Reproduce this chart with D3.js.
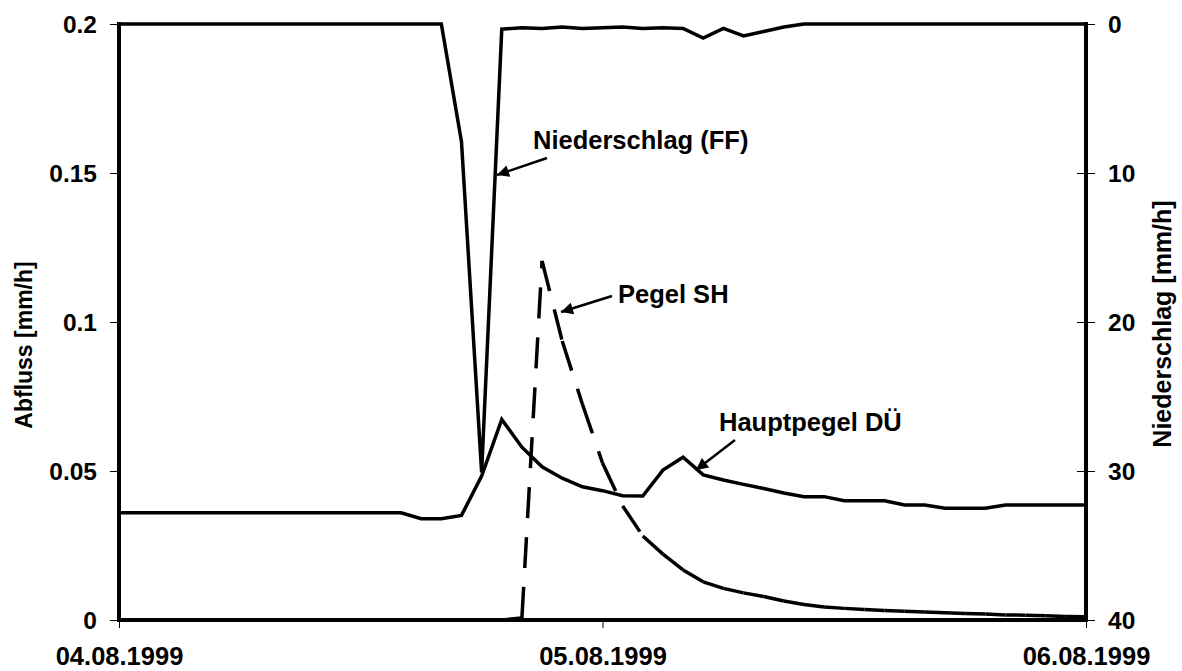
<!DOCTYPE html>
<html>
<head>
<meta charset="utf-8">
<script src="https://cdn.jsdelivr.net/npm/d3@7"></script>
<style>
  html, body { margin: 0; padding: 0; background: #fff; }
  svg { display: block; }
  text { font-family: "Liberation Sans", Arial, sans-serif; font-weight: bold; fill: #000; }
</style>
</head>
<body>
<svg id="chart" width="1182" height="671"></svg>
<script>
// ---------- data (hourly values, 04.08.1999 00:00 .. 06.08.1999 00:00) ----------
const xTickLabels = ["04.08.1999", "05.08.1999", "06.08.1999"];
const leftTickValues = [0, 0.05, 0.1, 0.15, 0.2];
const leftTickLabels = ["0", "0.05", "0.1", "0.15", "0.2"];
const rightTickValues = [0, 10, 20, 30, 40];

// Hauptpegel DÜ  [mm/h]
const abflussDU = [
  0.036, 0.036, 0.036, 0.036, 0.036, 0.036, 0.036, 0.036, 0.036, 0.036,
  0.036, 0.036, 0.036, 0.036, 0.036, 0.034, 0.034, 0.0351, 0.0483, 0.0673,
  0.058, 0.0514, 0.0476, 0.0447, 0.0434, 0.0417, 0.0416, 0.0503, 0.0546, 0.0487,
  0.047, 0.0455, 0.0441, 0.0426, 0.0414, 0.0414, 0.040, 0.040, 0.040, 0.0386,
  0.0386, 0.0375, 0.0375, 0.0375, 0.0386, 0.0386, 0.0386, 0.0386, 0.0386
];
// Pegel SH  [mm/h]
const abflussSH = [
  0, 0, 0, 0, 0, 0, 0, 0, 0, 0,
  0, 0, 0, 0, 0, 0, 0, 0, 0, 0,
  0.0007, 0.1205, 0.0936, 0.0725, 0.0527, 0.0383, 0.0282, 0.0221, 0.0168, 0.0128,
  0.0106, 0.0091, 0.0079, 0.0064, 0.0052, 0.0044, 0.0039, 0.0035, 0.0032, 0.0029,
  0.0027, 0.0024, 0.0022, 0.002, 0.0017, 0.0016, 0.0014, 0.0012, 0.0011
];
// Niederschlag (FF)  [mm/h]
const niederschlag = [
  0, 0, 0, 0, 0, 0, 0, 0, 0, 0,
  0, 0, 0, 0, 0, 0, 0, 7.9, 30.1, 0.35,
  0.25, 0.3, 0.2, 0.3, 0.25, 0.2, 0.3, 0.25, 0.3, 0.95,
  0.3, 0.8, 0.5, 0.2, 0, 0, 0, 0, 0, 0,
  0, 0, 0, 0, 0, 0, 0, 0, 0
];

// ---------- layout ----------
const svg = d3.select("#chart");
const pLeft = 119, pRight = 1086, pTop = 24, pBottom = 620;

const start = new Date(1999, 7, 4, 0, 0);
const end = new Date(1999, 7, 6, 0, 0);
const times = abflussDU.map((_, i) => d3.timeHour.offset(start, i));
const xTickDates = xTickLabels.map((_, i) => d3.timeDay.offset(start, i));

const x = d3.scaleTime().domain([start, end]).range([pLeft, pRight]);
const yL = d3.scaleLinear().domain([0, 0.2]).range([pBottom, pTop]);
const yR = d3.scaleLinear().domain([0, 40]).range([pTop, pBottom]);

// ---------- series ----------
const lineL = d3.line().x((d, i) => x(times[i])).y(d => yL(d));
const lineR = d3.line().x((d, i) => x(times[i])).y(d => yR(d));

// Niederschlag (solid)
svg.append("path").datum(niederschlag)
  .attr("d", lineR)
  .attr("fill", "none").attr("stroke", "#000")
  .attr("stroke-width", 3.5).attr("stroke-linejoin", "miter").attr("stroke-miterlimit", 10);

// Hauptpegel DÜ (solid)
svg.append("path").datum(abflussDU)
  .attr("d", lineL)
  .attr("fill", "none").attr("stroke", "#000")
  .attr("stroke-width", 3.5).attr("stroke-linejoin", "miter");

// Pegel SH (dashed, dash pattern restarts on every segment)
const segs = d3.pairs(abflussSH.map((v, i) => [times[i], v]));
svg.append("g").selectAll("line").data(segs).join("line")
  .attr("x1", d => x(d[0][0])).attr("y1", d => yL(d[0][1]))
  .attr("x2", d => x(d[1][0])).attr("y2", d => yL(d[1][1]))
  .attr("stroke", "#000").attr("stroke-width", 3.5)
  .attr("stroke-dasharray", "31,19");

// ---------- axes ----------
const gL = svg.append("g").attr("transform", `translate(${pLeft},0)`)
  .call(d3.axisLeft(yL).tickValues(leftTickValues)
    .tickFormat((d, i) => leftTickLabels[i]).tickSize(9).tickPadding(13).tickSizeOuter(0));
const gR = svg.append("g").attr("transform", `translate(${pRight},0)`)
  .call(d3.axisRight(yR).tickValues(rightTickValues).tickSize(9).tickPadding(13).tickSizeOuter(0));
gR.selectAll(".tick line").attr("x1", -9);
const gB = svg.append("g").attr("transform", `translate(0,${pBottom})`)
  .call(d3.axisBottom(x).tickValues(xTickDates)
    .tickFormat((d, i) => xTickLabels[i]).tickSize(8).tickSizeOuter(0));

[gL, gR, gB].forEach(g => {
  g.select(".domain").remove();
  g.selectAll(".tick line").attr("stroke", "#000").attr("stroke-width", 1);
  g.selectAll("text").style("font-size", "24.5px").style("font-weight", "bold")
    .style("font-family", "'Liberation Sans', Arial, sans-serif").attr("fill", "#000");
});
gL.selectAll("text").attr("dy", "0.36em");
gR.selectAll("text").attr("dy", "0.36em");
gB.selectAll("text").attr("y", 45).attr("dy", 0).style("font-size", "25.5px");

// thick axis lines
const axisLines = [
  [pLeft, pTop, pLeft, pBottom],
  [pRight, pTop, pRight, pBottom],
  [pLeft, pBottom, pRight, pBottom]
];
svg.append("g").selectAll("line").data(axisLines).join("line")
  .attr("x1", d => d[0]).attr("y1", d => d[1]).attr("x2", d => d[2]).attr("y2", d => d[3])
  .attr("stroke", "#000").attr("stroke-width", 4).attr("stroke-linecap", "square");

// axis titles
svg.append("text")
  .attr("transform", "translate(32,345) rotate(-90)")
  .attr("text-anchor", "middle").style("font-size", "23px")
  .text("Abfluss [mm/h]");
svg.append("text")
  .attr("transform", "translate(1171,324) rotate(-90)")
  .attr("text-anchor", "middle").style("font-size", "25px")
  .text("Niederschlag [mm/h]");

// ---------- annotations ----------
const defs = svg.append("defs");
defs.append("marker").attr("id", "arrow")
  .attr("viewBox", "0 0 10 10").attr("refX", 10).attr("refY", 5)
  .attr("markerUnits", "userSpaceOnUse")
  .attr("markerWidth", 15).attr("markerHeight", 12).attr("orient", "auto")
  .append("path").attr("d", "M0,0 L10,5 L0,10 z").attr("fill", "#000");

const annotations = [
  { text: "Niederschlag (FF)", tx: 533, ty: 149, from: [547, 158], to: [497, 175] },
  { text: "Pegel SH", tx: 618, ty: 303, from: [612, 296], to: [561, 312] },
  { text: "Hauptpegel DÜ", tx: 719, ty: 431, from: [735, 440], to: [696, 470] }
];
const ga = svg.append("g");
ga.selectAll("line").data(annotations).join("line")
  .attr("x1", d => d.from[0]).attr("y1", d => d.from[1])
  .attr("x2", d => d.to[0]).attr("y2", d => d.to[1])
  .attr("stroke", "#000").attr("stroke-width", 2.5)
  .attr("marker-end", "url(#arrow)");
ga.selectAll("text").data(annotations).join("text")
  .attr("x", d => d.tx).attr("y", d => d.ty)
  .style("font-size", "25.5px")
  .text(d => d.text);
</script>
</body>
</html>
